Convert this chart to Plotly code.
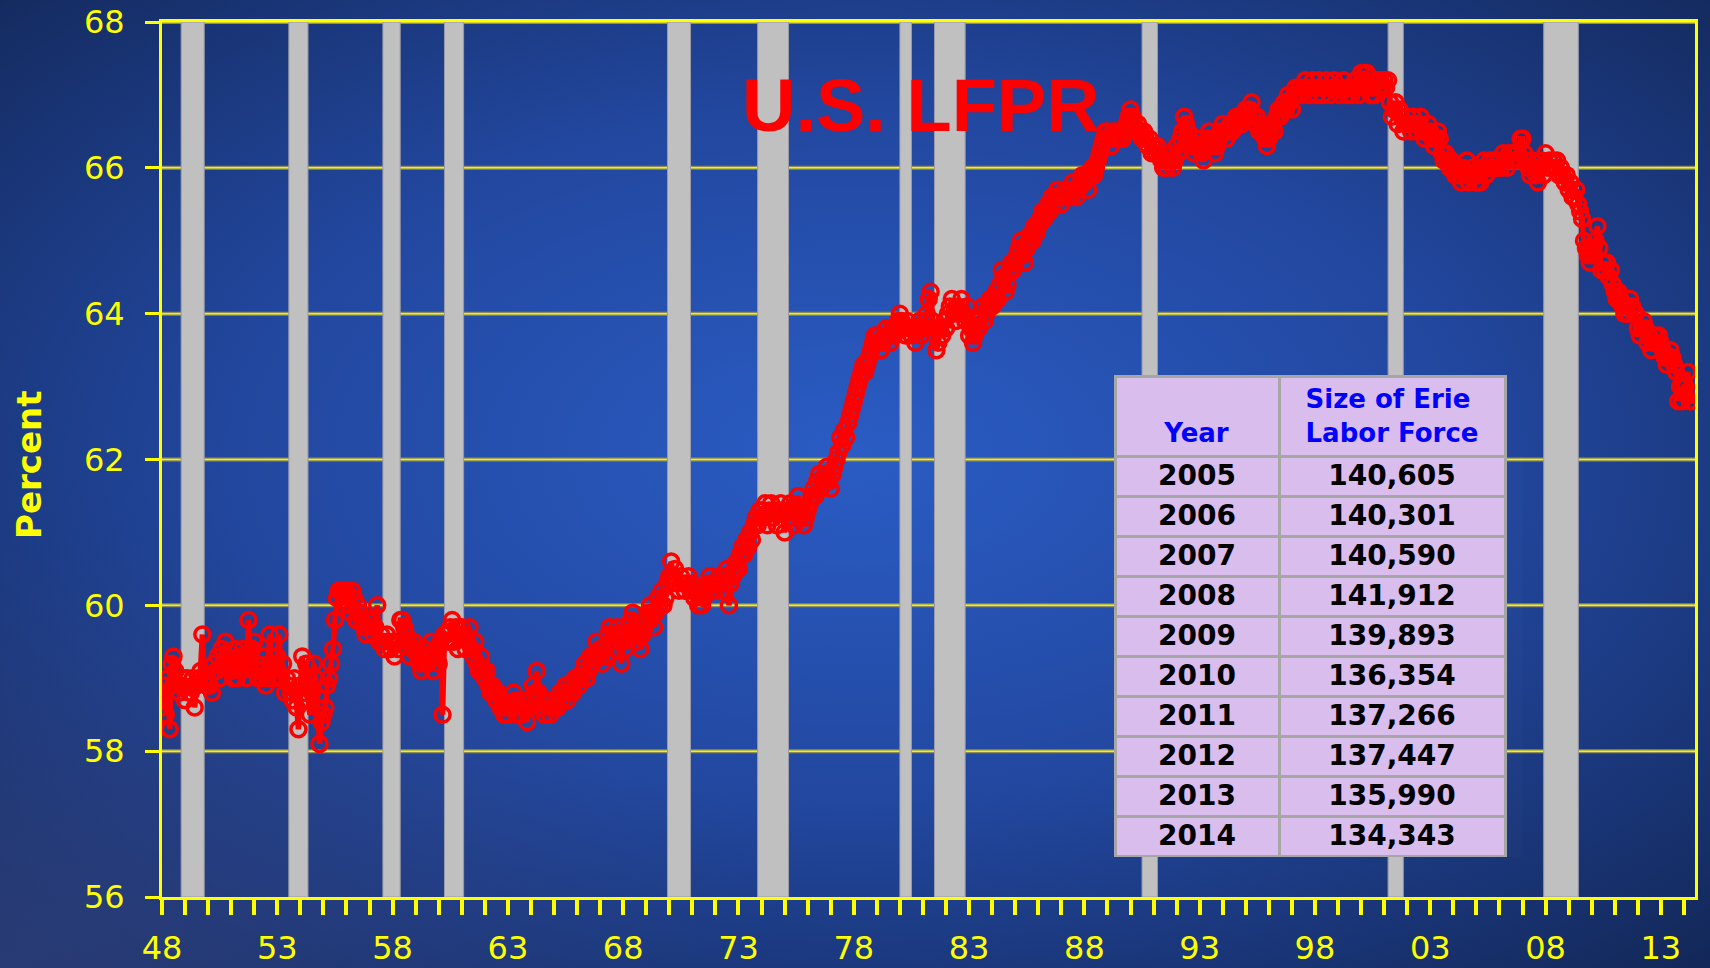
import base64
import plotly.graph_objects as go

# ---------------- data ----------------
start_year = 1948
lfpr_1948_1959 = [
    58.6, 58.9, 58.5, 59.0, 58.3, 59.2, 59.3, 59.1, 58.9, 58.8, 58.9, 59.0,
    58.7, 59.0, 58.8, 58.8, 59.0, 58.6, 58.9, 59.0, 59.1, 59.6, 59.0, 58.9,
    58.9, 58.9, 58.8, 59.2, 59.1, 59.3, 59.0, 59.4, 59.2, 59.5, 59.3, 59.2,
    59.1, 59.0, 59.4, 59.0, 59.3, 59.1, 59.4, 59.3, 59.0, 59.8, 59.3, 59.4,
    59.5, 59.2, 59.0, 59.1, 59.0, 59.3, 58.9, 59.0, 59.6, 59.1, 59.0, 59.2,
    59.3, 59.6, 59.0, 59.2, 58.8, 59.0, 58.9, 58.8, 58.7, 59.0, 58.6, 58.3,
    58.9, 59.3, 58.8, 59.2, 58.7, 58.5, 58.8, 59.2, 59.0, 58.6, 58.1, 58.4,
    58.5, 58.6, 58.9, 59.0, 59.2, 59.4, 59.8, 60.1, 60.2, 60.2, 60.0, 60.2,
    60.2, 60.0, 59.9, 60.2, 60.1, 59.8, 60.0, 59.9, 59.8, 59.7, 59.6, 59.8,
    59.8, 59.7, 59.6, 59.7, 60.0, 59.5, 59.6, 59.5, 59.4, 59.6, 59.5, 59.4,
    59.5, 59.3, 59.5, 59.4, 59.8, 59.8, 59.7, 59.6, 59.5, 59.3, 59.4, 59.5,
    59.4, 59.3, 59.2, 59.1, 59.3, 59.4, 59.2, 59.3, 59.5, 59.1, 59.4, 59.3,
]
lfpr_1960_1971 = [
    59.2, 59.5, 58.5, 59.6, 59.6, 59.5, 59.7, 59.8, 59.5, 59.7, 59.4, 59.6,
    59.7, 59.6, 59.4, 59.5, 59.7, 59.4, 59.3, 59.5, 59.2, 59.1, 59.3, 59.1,
    59.0, 59.1, 58.9, 58.8, 58.9, 58.8, 58.7, 58.8, 58.6, 58.7, 58.5, 58.6,
    58.5, 58.6, 58.6, 58.8, 58.7, 58.5, 58.6, 58.5, 58.7, 58.6, 58.4, 58.6,
    58.7, 58.9, 58.8, 59.1, 58.8, 58.6, 58.6, 58.5, 58.7, 58.6, 58.5, 58.6,
    58.6, 58.7, 58.6, 58.8, 58.7, 58.8, 58.9, 58.7, 58.8, 58.9, 58.8, 59.0,
    59.0, 58.9, 59.0, 59.1, 59.2, 59.0, 59.1, 59.3, 59.2, 59.3, 59.5, 59.3,
    59.4, 59.2, 59.4, 59.3, 59.6, 59.7, 59.5, 59.6, 59.4, 59.7, 59.6, 59.2,
    59.5, 59.4, 59.7, 59.6, 59.8, 59.9, 59.7, 59.5, 59.6, 59.4, 59.6, 59.7,
    59.8, 59.9, 60.0, 59.9, 59.7, 59.9, 60.1, 60.0, 60.2, 60.0, 60.1, 60.3,
    60.4, 60.6, 60.4, 60.5, 60.3, 60.2, 60.4, 60.3, 60.2, 60.3, 60.4, 60.2,
    60.3, 60.1, 60.2, 60.0, 60.2, 60.0, 60.1, 60.2, 60.3, 60.4, 60.2, 60.3,
]
lfpr_1972_1983 = [
    60.2, 60.3, 60.4, 60.3, 60.2, 60.4, 60.5, 60.0, 60.3, 60.4, 60.5, 60.6,
    60.5, 60.7, 60.8, 60.7, 60.9, 60.8, 61.0, 60.9, 61.1, 61.2, 61.1, 61.3,
    61.3, 61.2, 61.4, 61.1, 61.3, 61.4, 61.2, 61.3, 61.1, 61.3, 61.4, 61.3,
    61.0, 61.3, 61.2, 61.4, 61.2, 61.1, 61.3, 61.5, 61.2, 61.3, 61.1, 61.2,
    61.3, 61.4, 61.5, 61.6, 61.5, 61.7, 61.8, 61.6, 61.7, 61.8, 61.9, 61.7,
    61.6, 61.8, 61.9, 62.0, 62.1, 62.3, 62.2, 62.4, 62.3, 62.5, 62.6, 62.7,
    62.8, 62.9, 63.0, 63.1, 63.2, 63.3, 63.2, 63.3, 63.4, 63.5, 63.6, 63.7,
    63.6, 63.7, 63.5, 63.6, 63.7, 63.8, 63.7, 63.6, 63.8, 63.7, 63.8, 63.9,
    64.0, 63.9, 63.8, 63.7, 63.9, 63.8, 63.7, 63.8, 63.6, 63.8, 63.9, 63.7,
    63.8, 63.9, 64.0, 64.2, 64.3, 63.9, 63.8, 63.5, 63.6, 63.8, 63.7, 63.9,
    63.8, 64.0, 64.1, 64.2, 64.0, 63.9, 64.1, 64.0, 64.2, 64.0, 63.9, 64.1,
    63.7, 63.8, 63.6, 63.7, 63.9, 63.8, 64.0, 64.1, 63.9, 64.0, 64.1, 64.2,
]
lfpr_1984_1995 = [
    64.1, 64.2, 64.3, 64.2, 64.4, 64.6, 64.5, 64.3, 64.4, 64.6, 64.7, 64.6,
    64.7, 64.8, 64.9, 65.0, 64.8, 64.7, 64.9, 65.0, 65.1, 65.0, 65.2, 65.1,
    65.2, 65.3, 65.4, 65.3, 65.4, 65.5, 65.4, 65.6, 65.5, 65.6, 65.7, 65.6,
    65.5, 65.6, 65.7, 65.6, 65.7, 65.6, 65.8, 65.7, 65.6, 65.7, 65.8, 65.9,
    65.8, 65.9, 65.7, 65.9, 66.0, 65.9, 66.0, 66.1, 66.2, 66.3, 66.4, 66.5,
    66.5, 66.4, 66.3, 66.5, 66.4, 66.5, 66.4, 66.5, 66.4, 66.5, 66.6, 66.7,
    66.8, 66.7, 66.6, 66.5, 66.6, 66.5, 66.4, 66.5, 66.4, 66.3, 66.4, 66.2,
    66.3, 66.2, 66.3, 66.2, 66.1, 66.0, 66.1, 66.0, 66.2, 66.1, 66.0, 66.1,
    66.3, 66.2, 66.4, 66.5, 66.7, 66.6, 66.5, 66.4, 66.3, 66.2, 66.3, 66.4,
    66.3, 66.2, 66.1, 66.3, 66.4, 66.5, 66.3, 66.4, 66.2, 66.3, 66.4, 66.5,
    66.6, 66.5, 66.4, 66.5, 66.6, 66.5, 66.6, 66.7, 66.6, 66.7, 66.6, 66.7,
    66.8, 66.7, 66.8, 66.9, 66.7, 66.6, 66.7, 66.5, 66.6, 66.5, 66.4, 66.3,
]
lfpr_1996_2007 = [
    66.4, 66.5, 66.6, 66.5, 66.7, 66.8, 66.7, 66.8, 66.9, 66.8, 67.0, 66.9,
    66.8, 67.0, 67.1, 67.0, 67.1, 67.0, 67.1, 67.2, 67.1, 67.0, 67.1, 67.2,
    67.1, 67.0, 67.2, 67.1, 67.0, 67.1, 67.2, 67.1, 67.0, 67.1, 67.2, 67.1,
    67.1, 67.0, 67.1, 67.2, 67.1, 67.0, 67.1, 67.0, 67.1, 67.2, 67.1, 67.0,
    67.3, 67.2, 67.3, 67.3, 67.1, 67.0, 67.1, 67.0, 67.2, 67.1, 67.2, 67.1,
    67.2, 67.1, 67.2, 66.9, 66.7, 66.8, 66.9, 66.6, 66.8, 66.7, 66.5, 66.6,
    66.7, 66.6, 66.5, 66.7, 66.6, 66.5, 66.6, 66.7, 66.5, 66.4, 66.5, 66.6,
    66.5, 66.4, 66.3, 66.4, 66.5, 66.4, 66.2, 66.1, 66.2, 66.1, 66.0, 66.1,
    66.0, 65.9, 66.0, 65.9, 65.8, 66.0, 65.9, 66.1, 65.8, 65.9, 66.0, 65.9,
    65.8, 65.9, 65.8, 66.0, 66.1, 65.9, 66.0, 66.1, 66.0, 66.1, 66.0, 66.0,
    66.1, 66.0, 66.2, 66.1, 66.0, 66.2, 66.1, 66.2, 66.1, 66.2, 66.1, 66.4,
    66.4, 66.2, 66.1, 66.0, 65.9, 66.1, 66.0, 65.9, 65.8, 66.0, 66.1, 65.9,
]
lfpr_2008_2014 = [
    66.2, 66.0, 66.1, 66.0, 66.1, 66.0, 66.1, 65.9, 66.0, 65.9, 65.8, 65.9,
    65.7, 65.8, 65.6, 65.6, 65.7, 65.5, 65.4, 65.3, 65.0, 64.9, 64.8, 64.7,
    64.8, 64.9, 65.0, 65.2, 64.9, 64.6, 64.7, 64.6, 64.7, 64.5, 64.6, 64.4,
    64.3, 64.2, 64.3, 64.2, 64.1, 64.0, 64.1, 64.0, 64.2, 64.1, 64.0, 64.0,
    63.8, 63.7, 63.8, 63.9, 63.8, 63.6, 63.7, 63.5, 63.6, 63.7, 63.6, 63.7,
    63.6, 63.5, 63.4, 63.3, 63.4, 63.5, 63.4, 63.3, 63.2, 62.8, 63.0, 62.8,
    63.0, 63.0, 63.2, 62.8, 62.8, 62.9,
]

recession_start = [1948.83, 1953.50, 1957.58, 1960.25, 1969.92, 1973.83, 1980.00, 1981.50, 1990.50, 2001.17, 2007.92]
recession_end   = [1949.83, 1954.33, 1958.33, 1961.08, 1970.92, 1975.17, 1980.50, 1982.83, 1991.17, 2001.83, 2009.42]

y_grid_vals = [58, 60, 62, 64, 66, 68]
x_tick_vals = [1948, 1953, 1958, 1963, 1968, 1973, 1978, 1983, 1988, 1993, 1998, 2003, 2008, 2013]
x_tick_text = ["48", "53", "58", "63", "68", "73", "78", "83", "88", "93", "98", "03", "08", "13"]

table_years = ["2005", "2006", "2007", "2008", "2009", "2010", "2011", "2012", "2013", "2014"]
table_labor_force = ["140,605", "140,301", "140,590", "141,912", "139,893",
                     "136,354", "137,266", "137,447", "135,990", "134,343"]

# ---------------- build ----------------
lfpr = lfpr_1948_1959 + lfpr_1960_1971 + lfpr_1972_1983 + lfpr_1984_1995 + lfpr_1996_2007 + lfpr_2008_2014
months_x = [start_year + i / 12 for i in range(len(lfpr))]

W, H = 1710, 968
ML, MR, MT, MB = 162, 15, 22, 71
PW, PH = W - ML - MR, H - MT - MB

YELLOW = "#ffff00"

fig = go.Figure()
fig.add_trace(go.Scatter(
    x=months_x, y=lfpr, mode="lines+markers",
    line=dict(color="#ff0000", width=5.5),
    marker=dict(symbol="circle-open", size=15, color="#ff0000", line=dict(width=3.5, color="#ff0000")),
    hoverinfo="x+y", showlegend=False,
))

fig.add_trace(go.Table(
    domain=dict(x=[(1115 - ML) / PW, (1505 - ML) / PW], y=[1 - (857 - MT) / PH, 1 - (376 - MT) / PH]),
    columnwidth=[164, 226],
    header=dict(
        values=["\u00a0<br>Year", "Size of Erie<br>Labor Force"],
        fill_color="#d9bdec", line=dict(color="#a6a6a6", width=3),
        align="center", height=80,
        font=dict(family="DejaVu Sans", size=26, color="#0000ff", weight="bold"),
    ),
    cells=dict(
        values=[table_years, table_labor_force],
        fill_color="#d9bdec", line=dict(color="#a6a6a6", width=3),
        align="center", height=40,
        font=dict(family="DejaVu Sans", size=28, color="#000000", weight="bold"),
    ),
))

shapes = []
# yellow gridlines with grey shadow (drawn first, below recession bars)
for g in y_grid_vals:
    shapes.append(dict(type="line", xref="x domain", yref="y", x0=0, x1=1, y0=g, y1=g,
                       line=dict(color="#8c8c5a", width=4), layer="below"))
    shapes.append(dict(type="line", xref="x domain", yref="y", x0=0, x1=1, y0=g, y1=g,
                       line=dict(color="#f0f020", width=1.5), layer="below"))
for s, e in zip(recession_start, recession_end):
    shapes.append(dict(type="rect", xref="x", yref="y domain", x0=s, x1=e, y0=0, y1=1,
                       fillcolor="#c0c0c0", line=dict(color="#9a9aa8", width=1), layer="below"))

svg = (
    '<svg xmlns="http://www.w3.org/2000/svg" width="1710" height="968" viewBox="0 0 1710 968" preserveAspectRatio="none">'
    '<defs>'
    '<radialGradient id="g" cx="0.5" cy="0.47" r="0.72">'
    '<stop offset="0" stop-color="#2a5cc4"/>'
    '<stop offset="0.5" stop-color="#22479f"/>'
    '<stop offset="1" stop-color="#132859"/>'
    '</radialGradient>'
    '<radialGradient id="h" cx="0.0" cy="1.0" r="0.45">'
    '<stop offset="0" stop-color="#3a4a8a" stop-opacity="0.55"/>'
    '<stop offset="1" stop-color="#3a4a8a" stop-opacity="0"/>'
    '</radialGradient>'
    '</defs>'
    '<rect width="1710" height="968" fill="url(#g)"/>'
    '<rect width="1710" height="968" fill="url(#h)"/></svg>'
)
bg_uri = "data:image/svg+xml;base64," + base64.b64encode(svg.encode()).decode()

fig.update_layout(
    width=W, height=H,
    margin=dict(l=ML, r=MR, t=MT, b=MB, pad=0, autoexpand=False),
    paper_bgcolor="#1c3570", plot_bgcolor="rgba(0,0,0,0)",
    images=[dict(source=bg_uri, xref="paper", yref="paper",
                 x=-ML / PW, y=1 + MT / PH, sizex=W / PW, sizey=H / PH,
                 xanchor="left", yanchor="top", sizing="stretch", layer="below")],
    shapes=shapes,
    showlegend=False,
    annotations=[
        dict(text="U.S. LFPR", xref="paper", yref="paper", x=(921 - ML) / PW, y=1 - (106 - MT) / PH,
             xanchor="center", yanchor="middle", showarrow=False,
             font=dict(family="Liberation Sans", size=74, color="#ff0000", weight="bold")),
        dict(text="Percent", xref="paper", yref="paper", x=(29 - ML) / PW, y=1 - (465 - MT) / PH,
             xanchor="center", yanchor="middle", showarrow=False, textangle=-90,
             font=dict(family="DejaVu Sans", size=34, color=YELLOW, weight="bold")),
    ],
)

fig.update_xaxes(
    range=[1948, 2014.48], tickmode="array", tickvals=x_tick_vals, ticktext=x_tick_text,
    ticks="outside", ticklen=15, tickwidth=4, tickcolor=YELLOW,
    minor=dict(dtick=1, tick0=1948, ticks="outside", ticklen=15, tickwidth=4, tickcolor=YELLOW, showgrid=False),
    showgrid=False, zeroline=False, automargin=False,
    showline=True, linecolor=YELLOW, linewidth=3, mirror=True,
    tickfont=dict(family="DejaVu Sans", size=32, color=YELLOW),
    ticklabelstandoff=6,
)
fig.update_yaxes(
    range=[56, 68], dtick=2, tick0=56,
    ticks="outside", ticklen=14, tickwidth=3, tickcolor=YELLOW,
    showgrid=False, zeroline=False, automargin=False,
    showline=True, linecolor=YELLOW, linewidth=3, mirror=True,
    tickfont=dict(family="DejaVu Sans", size=32, color=YELLOW),
    ticklabelstandoff=14,
)

fig.write_html("out.html", config={"displayModeBar": False},
               post_script="document.body.style.margin='0px';")
